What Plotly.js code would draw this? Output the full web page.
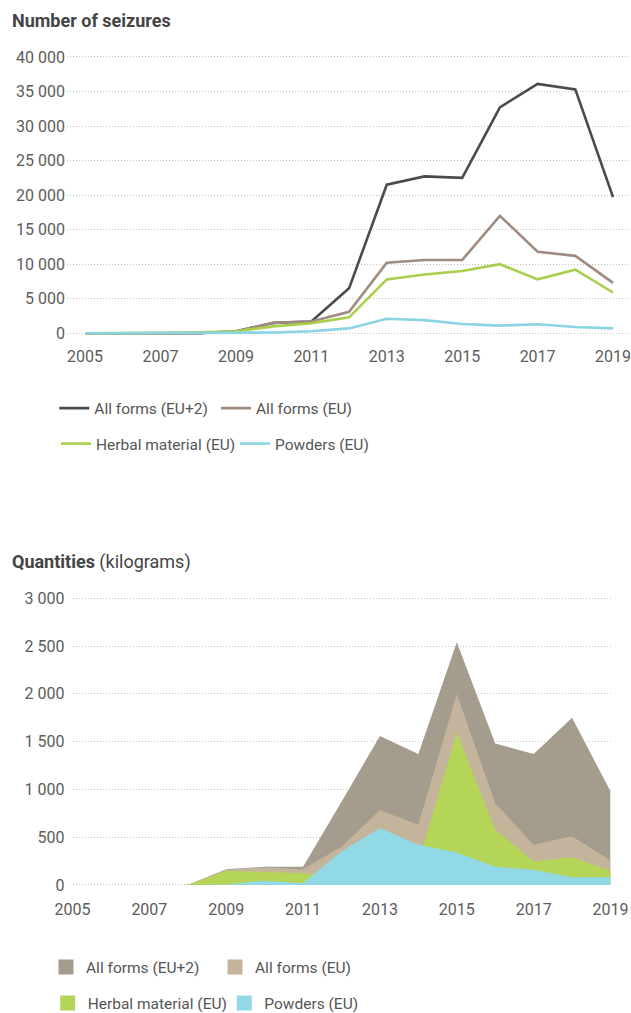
<!DOCTYPE html>
<html>
<head>
<meta charset="utf-8">
<script src="https://cdn.plot.ly/plotly-3.0.1.min.js"></script>
<style>html,body{margin:0;padding:0;background:#fff}</style>
</head>
<body>
<div id="chart" style="width:631px;height:1013px"></div>
<script>
// ---- data ----
const years = [2005, 2006, 2007, 2008, 2009, 2010, 2011, 2012, 2013, 2014, 2015, 2016, 2017, 2018, 2019];
const tickYears = [2005, 2007, 2009, 2011, 2013, 2015, 2017, 2019];

const seriesNames = ['All forms (EU+2)', 'All forms (EU)', 'Herbal material (EU)', 'Powders (EU)'];

// Number of seizures
const seizuresAllEU2 = [0, 0, 0, 0, 300, 1500, 1700, 6500, 21500, 22700, 22500, 32700, 36100, 35300, 19700];
const seizuresAllEU  = [0, 0, 0, 0, 300, 1500, 1700, 3100, 10200, 10600, 10600, 17000, 11800, 11200, 7300];
const seizuresHerbal = [0, 0, 50, 150, 300, 1000, 1450, 2300, 7800, 8500, 9000, 10000, 7800, 9200, 5900];
const seizuresPowder = [0, 0, 0, 0, 50, 100, 300, 700, 2100, 1900, 1350, 1100, 1300, 900, 700];

// Quantities (kilograms)
const qtyAllEU2 = [null, null, null, 0, 165, 190, 190, 870, 1560, 1370, 2540, 1480, 1370, 1750, 980];
const qtyAllEU  = [null, null, null, 0, 160, 185, 165, 400, 785, 630, 2000, 855, 420, 510, 255];
const qtyHerbal = [null, null, null, 0, 150, 135, 122, 80, 300, 230, 1600, 580, 245, 290, 150];
const qtyPowder = [null, null, null, 0, 5, 45, 18, 350, 595, 420, 340, 190, 160, 80, 80];

// ---- styling ----
const W = 631, H = 1013;
const px2x = p => p / W;
const px2y = p => 1 - p / H;

const lineColors = ['#4b4b4b', '#9f8b80', '#a9cf4a', '#8ad4e3'];
const areaColors = ['#a49c8c', '#c3b49b', '#b5d558', '#91d9e5'];

const FONT = 'Roboto, "Open Sans", Arial, sans-serif';
const tickFont = {family: FONT, size: 16, color: '#5c5c5c'};
const legFont = {family: FONT, size: 15.5, color: '#555555'};

const topSeries = [seizuresAllEU2, seizuresAllEU, seizuresHerbal, seizuresPowder];
const botSeries = [qtyAllEU2, qtyAllEU, qtyHerbal, qtyPowder];

const traces = [];
topSeries.forEach((vals, i) => {
  traces.push({
    type: 'scatter', mode: 'lines', x: years, y: vals,
    name: seriesNames[i], xaxis: 'x', yaxis: 'y',
    line: {color: lineColors[i], width: 2.6},
    legend: i < 2 ? 'legend' : 'legend2',
    hoverinfo: 'skip'
  });
});
botSeries.forEach((vals, i) => {
  traces.push({
    type: 'scatter', mode: 'lines', x: years, y: vals,
    name: seriesNames[i], xaxis: 'x2', yaxis: 'y2',
    fill: 'tozeroy', fillcolor: areaColors[i],
    line: {color: areaColors[i], width: 0},
    showlegend: false, hoverinfo: 'skip'
  });
});
// legend entries (square swatches) for the area chart
botSeries.forEach((vals, i) => {
  traces.push({
    type: 'scatter', mode: 'markers', x: [null], y: [null],
    name: seriesNames[i], xaxis: 'x2', yaxis: 'y2',
    marker: {symbol: 'square', size: 15, color: areaColors[i]},
    legend: i < 2 ? 'legend3' : 'legend4',
    hoverinfo: 'skip'
  });
});

const gridStyle = {showgrid: true, gridcolor: '#c4c4c4', griddash: '1px,2px', gridwidth: 1, zeroline: false, showline: false, ticks: ''};
const xStyle = {showgrid: false, zeroline: false, showline: false, ticks: '', tickmode: 'array', tickvals: tickYears, tickfont: tickFont, fixedrange: true, ticklabeloverflow: 'allow'};

function legendCfg(xp, yp, ew) {
  return {
    x: px2x(xp), y: px2y(yp), xanchor: 'left', yanchor: 'middle',
    orientation: 'h', entrywidth: ew, entrywidthmode: 'pixels',
    font: legFont, bgcolor: 'rgba(0,0,0,0)', borderwidth: 0, traceorder: 'normal'
  };
}

const layout = {
  width: W, height: H,
  margin: {l: 0, r: 0, t: 0, b: 0, autoexpand: false},
  paper_bgcolor: '#ffffff', plot_bgcolor: '#ffffff',
  separators: '. ',
  showlegend: true,
  hovermode: false,
  xaxis: Object.assign({}, xStyle, {domain: [px2x(67), px2x(630)], range: [2004.52, 2019.45], anchor: 'y', ticklabelstandoff: 3.5}),
  yaxis: Object.assign({}, gridStyle, {domain: [px2y(345), px2y(50)], range: [-1700, 41000], dtick: 5000, tick0: 0, tickformat: ',d', tickfont: tickFont, anchor: 'x', ticklabelstandoff: 1, fixedrange: true}),
  xaxis2: Object.assign({}, xStyle, {domain: [px2x(72.5), px2x(610.5)], range: [2005, 2019], anchor: 'y2', ticklabelstandoff: 3}),
  yaxis2: Object.assign({}, gridStyle, {domain: [px2y(895), px2y(588)], range: [-105, 3108], dtick: 500, tick0: 0, tickformat: ',d', tickfont: tickFont, anchor: 'x2', ticklabelstandoff: 7, fixedrange: true}),
  legend: legendCfg(54.3, 408.5, 116.7),
  legend2: legendCfg(56, 444, 134),
  legend3: legendCfg(46, 967.5, 124),
  legend4: legendCfg(47.7, 1003.3, 131.6),
  annotations: [
    {xref: 'paper', yref: 'paper', x: px2x(10), y: px2y(21), xanchor: 'left', yanchor: 'middle', showarrow: false,
     text: '<b>Number of seizures</b>', font: {family: FONT, size: 18, color: '#444444'}},
    {xref: 'paper', yref: 'paper', x: px2x(10), y: px2y(562), xanchor: 'left', yanchor: 'middle', showarrow: false,
     text: '<b>Quantities</b> (kilograms)', font: {family: FONT, size: 18, color: '#444444'}}
  ]
};

Plotly.newPlot('chart', traces, layout, {staticPlot: true, displayModeBar: false});
</script>
</body>
</html>
